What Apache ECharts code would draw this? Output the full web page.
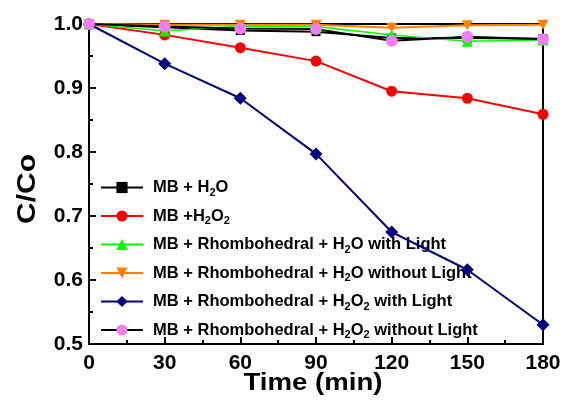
<!DOCTYPE html>
<html>
<head>
<meta charset="utf-8">
<script src="https://cdn.jsdelivr.net/npm/echarts@6/dist/echarts.min.js"></script>
<style>
  html, body { margin: 0; padding: 0; background: #fff; }
  #chart { width: 565px; height: 403px; }
</style>
</head>
<body>
<div id="chart"></div>
<script>
// Time points (min)
const time = [0, 30, 60, 90, 120, 150, 180];

// Normalised concentration C/Co for each condition
const mbH2O        = [1.000, 0.995, 0.990, 0.988, 0.978, 0.978, 0.977];
const mbH2O2       = [1.000, 0.983, 0.963, 0.942, 0.895, 0.884, 0.859];
const rhH2OLight   = [1.000, 0.989, 0.997, 0.996, 0.983, 0.973, 0.975];
const rhH2ODark    = [1.000, 0.999, 0.999, 0.999, 0.994, 0.998, 0.999];
const rhH2O2Light  = [1.000, 0.938, 0.884, 0.797, 0.675, 0.616, 0.530];
const rhH2O2Dark   = [1.000, 0.996, 0.993, 0.992, 0.974, 0.980, 0.976];

// Axis titles
const xTitle = 'Time (min)';
const yTitle = 'C/Co';

// Series keys and their legend text (rich text with subscripts)
const names = ['s1', 's2', 's3', 's4', 's5', 's6'];
const legendText = {
  s1: '{n|MB + H}{s|2}{n|O}',
  s2: '{n|MB +H}{s|2}{n|O}{s|2}',
  s3: '{n|MB + Rhombohedral + H}{s|2}{n|O with Light}',
  s4: '{n|MB + Rhombohedral + H}{s|2}{n|O without Light}',
  s5: '{n|MB + Rhombohedral + H}{s|2}{n|O}{s|2}{n| with Light}',
  s6: '{n|MB + Rhombohedral + H}{s|2}{n|O}{s|2}{n| without Light}'
};

const FONT = '"Liberation Sans", Arial, sans-serif';
const pair = arr => time.map((t, i) => [t, arr[i]]);
const downTri = 'path://M0,0 L10,0 L5,9 Z';

const chart = echarts.init(document.getElementById('chart'), null, { renderer: 'canvas' });

chart.setOption({
  animation: false,
  backgroundColor: '#fff',
  grid: {
    left: 89, right: 22, top: 24, bottom: 59,
    show: true, borderColor: '#000', borderWidth: 2, backgroundColor: 'transparent'
  },
  // Wide bold axis titles
  graphic: [
    { type: 'text', x: 313, y: 384, scaleX: 1.2, z: 10,
      style: { text: xTitle, font: 'bold 23px ' + FONT, fill: '#000',
               textAlign: 'center', textVerticalAlign: 'middle' } },
    { type: 'text', x: 28, y: 189, rotation: Math.PI / 2, scaleX: 1.2, z: 10,
      style: { text: yTitle, font: 'bold 25px ' + FONT, fill: '#000',
               textAlign: 'center', textVerticalAlign: 'middle' } }
  ],
  legend: {
    orient: 'vertical',
    left: 95, top: 172,
    padding: 5,
    itemWidth: 42, itemHeight: 14,
    itemGap: 7.5,
    data: names,
    formatter: n => legendText[n],
    textStyle: {
      fontFamily: FONT, fontWeight: 'bold', fontSize: 16.5, color: '#000',
      padding: [0, 0, 0, 5],
      rich: {
        n: { fontFamily: FONT, fontWeight: 'bold', fontSize: 16.5, color: '#000', lineHeight: 18.5 },
        s: { fontFamily: FONT, fontWeight: 'bold', fontSize: 11, color: '#000', lineHeight: 18.5, padding: [10, 0, 0, 0] }
      }
    }
  },
  xAxis: {
    type: 'value', min: 0, max: 180, interval: 30,
    axisLine: { lineStyle: { color: '#000', width: 2 } },
    axisTick: { inside: true, length: 7, lineStyle: { color: '#000', width: 2 } },
    minorTick: { show: true, splitNumber: 2, length: 4, lineStyle: { color: '#000', width: 2 } },
    axisLabel: { fontFamily: FONT, fontWeight: 'bold', fontSize: 21, color: '#000', margin: 9 },
    splitLine: { show: false }
  },
  yAxis: {
    type: 'value', min: 0.5, max: 1.0, interval: 0.1,
    axisLine: { lineStyle: { color: '#000', width: 2 } },
    axisTick: { inside: true, length: 7, lineStyle: { color: '#000', width: 2 } },
    minorTick: { show: true, splitNumber: 2, length: 4, lineStyle: { color: '#000', width: 2 } },
    axisLabel: { fontFamily: FONT, fontWeight: 'bold', fontSize: 21, color: '#000', margin: 6,
                 formatter: v => v.toFixed(1) },
    splitLine: { show: false }
  },
  series: [
    { name: 's1', type: 'line', data: pair(mbH2O), symbol: 'rect', symbolSize: 9,
      lineStyle: { color: '#000', width: 2 }, itemStyle: { color: '#000' }, z: 2 },
    { name: 's2', type: 'line', data: pair(mbH2O2), symbol: 'circle', symbolSize: 11,
      lineStyle: { color: '#ff0000', width: 2 }, itemStyle: { color: '#ff0000' }, z: 3 },
    { name: 's3', type: 'line', data: pair(rhH2OLight), symbol: 'triangle', symbolSize: 11,
      lineStyle: { color: '#00ff00', width: 1.5 }, itemStyle: { color: '#00ff00' }, z: 4 },
    { name: 's4', type: 'line', data: pair(rhH2ODark), symbol: downTri, symbolSize: [11, 10],
      lineStyle: { color: '#ff8000', width: 2 }, itemStyle: { color: '#ff8000' }, z: 5 },
    { name: 's5', type: 'line', data: pair(rhH2O2Light), symbol: 'diamond', symbolSize: 13,
      lineStyle: { color: '#000080', width: 2 }, itemStyle: { color: '#000080' }, z: 6 },
    { name: 's6', type: 'line', data: pair(rhH2O2Dark), symbol: 'circle', symbolSize: 12,
      lineStyle: { color: '#000', width: 2 }, itemStyle: { color: '#f080f0' }, z: 7 }
  ]
});
</script>
</body>
</html>
